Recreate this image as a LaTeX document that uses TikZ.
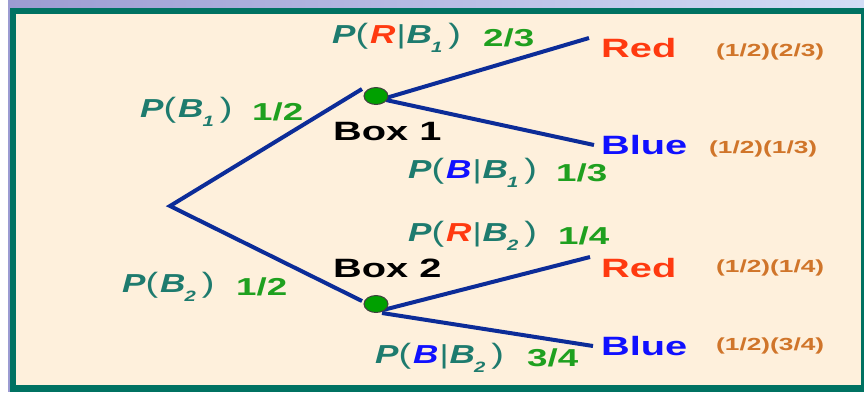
\documentclass[tikz,border=0pt]{standalone}
\usepackage{fontspec}
\setmainfont[FakeStretch=1.5]{Liberation Sans}
\newfontfamily\probfont[FakeStretch=1.35]{Liberation Sans}
\usetikzlibrary{shapes.geometric}
\definecolor{bgcream}{HTML}{FEF0DC}
\definecolor{frameteal}{HTML}{007262}
\definecolor{barleft}{HTML}{9C9CD2}
\definecolor{barright}{HTML}{D2DDF6}
\definecolor{lblteal}{HTML}{1E7B6E}
\definecolor{numgreen}{HTML}{1FA01F}
\definecolor{outred}{HTML}{FF3A10}
\definecolor{outblue}{HTML}{1010FF}
\definecolor{prodorange}{HTML}{D0752A}
\definecolor{linenavy}{HTML}{0C2C98}
\definecolor{dotgreen}{HTML}{00A000}
\newcommand\fsz[1]{\fontsize{#1}{#1}\selectfont}
\newcommand\subsc[1]{\raisebox{-0.32em}{\fsz{15}#1}}
\newcommand\lpar{{\fsz{28}\mdseries\upshape(}}
\newcommand\rpar{{\fsz{28}\mdseries\upshape)}}
\newcommand\Pit{P\lpar\kern2pt}
\newcommand\Bit[1]{B\kern-1pt\subsc{#1}\kern6pt\rpar}
\newcommand\condbar{\kern1pt{\mdseries\upshape|}\kern1pt}
\begin{document}
\begin{tikzpicture}[x=1pt,y=-1pt,
  lbl/.style={anchor=west,inner sep=0pt},
  prob/.style={lbl,text=lblteal,font=\probfont\bfseries\itshape\fsz{26}},
  num/.style={lbl,text=numgreen,font=\fsz{24.5}\bfseries},
  outc/.style={lbl,font=\fsz{26.5}\bfseries},
  prod/.style={lbl,text=prodorange,font=\fsz{17.5}\bfseries},
  boxlbl/.style={lbl,text=black,font=\fsz{26.5}\bfseries},
  branch/.style={draw=linenavy,line width=4pt},
  dotnode/.style={ellipse,fill=dotgreen,draw=black!75,line width=1pt,minimum width=24pt,minimum height=17pt,inner sep=0pt}]
\useasboundingbox (0,0) rectangle (864,392);
% background frame
\fill[white] (0,0) rectangle (864,392);
\shade[left color=barleft,right color=barright] (8,0) rectangle (864,8);
\fill[barleft] (8,0) rectangle (10,392);
\fill[frameteal] (10,8) rectangle (864,392);
\fill[bgcream] (16,14) rectangle (861,385);
% coordinates
\coordinate (root) at (170,206);
\coordinate (b1end) at (362,89);
\coordinate (b2end) at (362,301);
\coordinate (d1out) at (386,98);
\coordinate (d1outb) at (386,100);
\coordinate (d2out) at (383,310);
\coordinate (d2outb) at (382,313);
\coordinate (r1) at (589,38);
\coordinate (bl1) at (594,145);
\coordinate (r2) at (590,257);
\coordinate (bl2) at (593,346);
% branches
\draw[branch] (b1end) -- (root) -- (b2end);
\draw[branch] (d1out) -- (r1);
\draw[branch] (d1outb) -- (bl1);
\draw[branch] (d2out) -- (r2);
\draw[branch] (d2outb) -- (bl2);
\node[dotnode] (dot1) at (376,96) {};
\node[dotnode] (dot2) at (376,304) {};
% labels
\node[prob] (pb1) at (140,112) {\Pit\Bit{1}};
\node[num] (nb1) at (252,112) {1/2};
\node[prob] (prb1) at (332,38) {\Pit\textcolor{outred}{R}\condbar\Bit{1}};
\node[num] (nrb1) at (483,38) {2/3};
\node[boxlbl] (box1) at (333,132) {Box 1};
\node[prob] (pbb1) at (408,173) {\Pit\textcolor{outblue}{B}\condbar\Bit{1}};
\node[num] (nbb1) at (556,173) {1/3};
\node[prob] (prb2) at (408,236) {\Pit\textcolor{outred}{R}\condbar\Bit{2}};
\node[num] (nrb2) at (558,236) {1/4};
\node[boxlbl] (box2) at (333,268) {Box 2};
\node[prob] (pb2) at (122,287) {\Pit\Bit{2}};
\node[num] (nb2) at (236,287) {1/2};
\node[prob] (pbb2) at (375,358) {\Pit\textcolor{outblue}{B}\condbar\Bit{2}};
\node[num] (nbb2) at (527,358) {3/4};
% outcomes
\node[outc,text=outred] (red1) at (601,48) {Red};
\node[prod] (p1) at (716,52) {(1/2)(2/3)};
\node[outc,text=outblue] (blue1) at (601,145) {Blue};
\node[prod] (p2) at (709,149) {(1/2)(1/3)};
\node[outc,text=outred] (red2) at (601,268) {Red};
\node[prod] (p3) at (716,268) {(1/2)(1/4)};
\node[outc,text=outblue] (blue2) at (601,346) {Blue};
\node[prod] (p4) at (716,346) {(1/2)(3/4)};
\end{tikzpicture}
\end{document}
